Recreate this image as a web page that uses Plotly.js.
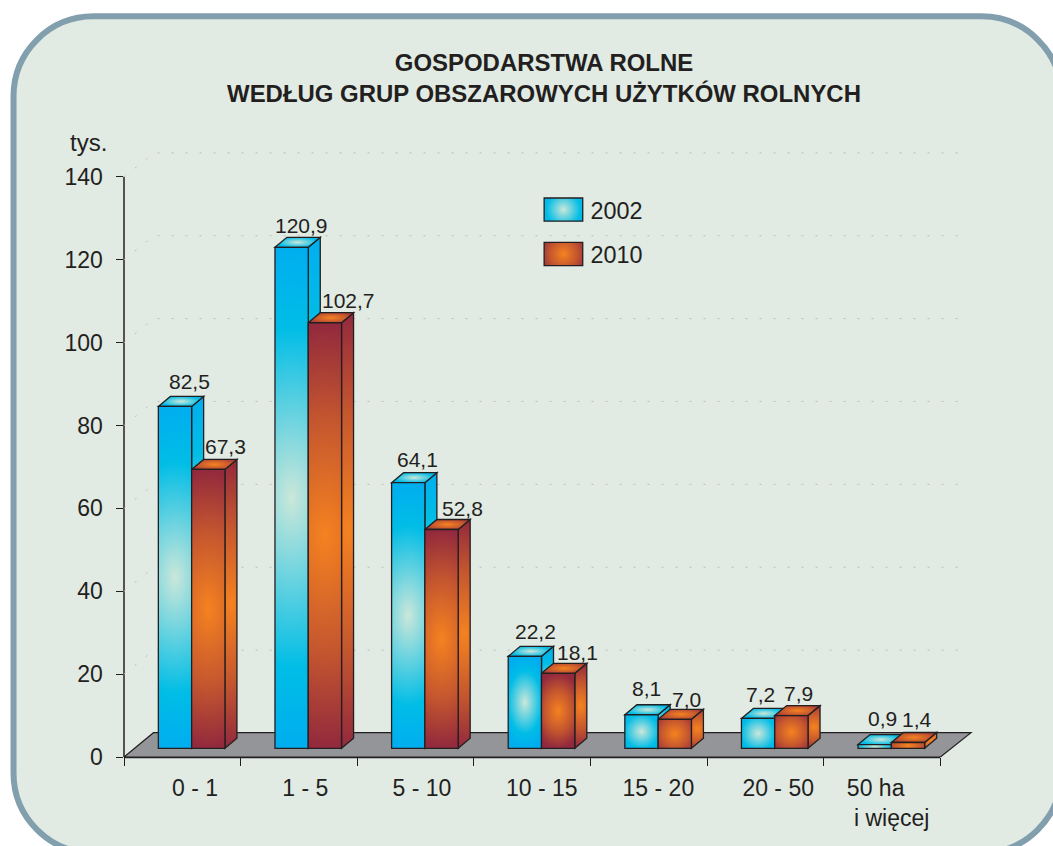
<!DOCTYPE html>
<html>
<head>
<meta charset="utf-8">
<script src="https://cdn.plot.ly/plotly-3.0.1.min.js"></script>
<style>html,body{margin:0;padding:0;background:#fff;overflow:hidden}</style>
</head>
<body>
<div id="chart" style="width:1053px;height:846px"></div>
<script>
// ---- data
const categories = ['0 - 1', '1 - 5', '5 - 10', '10 - 15', '15 - 20', '20 - 50', '50 ha i więcej'];
const values2002 = [82.5, 120.9, 64.1, 22.2, 8.1, 7.2, 0.9];
const values2010 = [67.3, 102.7, 52.8, 18.1, 7.0, 7.9, 1.4];
const yTicks = [0, 20, 40, 60, 80, 100, 120, 140];
const chartTitle = 'GOSPODARSTWA ROLNE<br>WEDŁUG GRUP OBSZAROWYCH UŻYTKÓW ROLNYCH';
const unitLabel = 'tys.';
// tick labels sit a little right of the category centres in the reference
const NB = n => '\u00a0'.repeat(n);
const tickLabels = [NB(4) + '0 - 1', NB(2) + '1 - 5', NB(2) + '5 - 10', NB(3) + '10 - 15', NB(3) + '15 - 20', NB(4) + '20 - 50',
  '50 ha' + NB(2) + '<br>' + NB(3) + 'i więcej'];

// ---- layout constants (pixels of the 1053x846 page)
const L = 123.5, BOTTOM = 757, PX_X = 116.64, PX_Y = 580 / 140;
const X_MAX = 6.78, Y_MAX = 146;
const R = L + (X_MAX + 0.5) * PX_X, T = BOTTOM - Y_MAX * PX_Y;
const xd = px => (px - L) / PX_X - 0.5;
const yd = py => (BOTTOM - py) / PX_Y;
const xp = px => (px - L) / (R - L);
const yp = py => (BOTTOM - py) / (BOTTOM - T);

const INK = '#231f20', FONT = '"Liberation Sans", Arial, sans-serif';
const BASE = 8.7 / PX_Y;              // bars stand on the floor, behind the axis line
const BAR_W = 33.3 / PX_X;
const OFF_A = -BAR_W + 0.08, OFF_B = 0.08;
const DX = 12 / PX_X, DY = 10 / PX_Y; // depth of the boxes
const GRID_LIFT = 24 / PX_Y, GRID_RUN = 30 / PX_X;

const BLUE = [[0, '#cbe7da'], [0.68, '#00bde6'], [1, '#00aeef']];
const RED = [[0, '#f58220'], [0.55, '#c4562f'], [1, '#92293d']];

const labelShift2002 = [[14.5, 25], [10, 22], [9, 23.6], [10.6, 24.6], [5, 26], [2.3, 23.6], [7.7, 25.6]];
const labelShift2010 = [[17, 23], [23.6, 22], [21, 21], [19.3, 20.5], [11.6, 20], [7, 21.7], [9.4, 23.5]];

// ---- background frame, grid, floor, axis lines
const shapes = [];
const faceKinds = {};
const fx = [13, 1061], fy = [16.5, 853], fr = 80, k = fr * 0.4477;
const framePath = [
  `M${xp(fx[0] + fr)},${yp(fy[0])}`,
  `L${xp(fx[1] - fr)},${yp(fy[0])}`,
  `C${xp(fx[1] - k)},${yp(fy[0])} ${xp(fx[1])},${yp(fy[0] + k)} ${xp(fx[1])},${yp(fy[0] + fr)}`,
  `L${xp(fx[1])},${yp(fy[1] - fr)}`,
  `C${xp(fx[1])},${yp(fy[1] - k)} ${xp(fx[1] - k)},${yp(fy[1])} ${xp(fx[1] - fr)},${yp(fy[1])}`,
  `L${xp(fx[0] + fr)},${yp(fy[1])}`,
  `C${xp(fx[0] + k)},${yp(fy[1])} ${xp(fx[0])},${yp(fy[1] - k)} ${xp(fx[0])},${yp(fy[1] - fr)}`,
  `L${xp(fx[0])},${yp(fy[0] + fr)}`,
  `C${xp(fx[0])},${yp(fy[0] + k)} ${xp(fx[0] + k)},${yp(fy[0])} ${xp(fx[0] + fr)},${yp(fy[0])}Z`
].join(' ');
shapes.push({type: 'path', xref: 'paper', yref: 'paper', layer: 'below', path: framePath,
  fillcolor: '#e1eae3', line: {color: '#829fae', width: 6}});

yTicks.filter(t => t > 0).forEach(t => {
  shapes.push({type: 'path', xref: 'x', yref: 'y', layer: 'below',
    path: `M${-0.5},${t} L${-0.5 + GRID_RUN},${t + GRID_LIFT} L${xd(964)},${t + GRID_LIFT}`,
    line: {color: '#bcbebf', width: 1, dash: '2px,12px'}});
});

shapes.push({type: 'path', xref: 'x', yref: 'y', layer: 'below',
  path: `M${xd(L)},0 L${xd(940)},0 L${xd(970.7)},${yd(732.7)} L${xd(153)},${yd(732.7)}Z`,
  fillcolor: '#939598', line: {color: INK, width: 1.2}});
shapes.push({type: 'line', xref: 'paper', yref: 'paper', layer: 'below',
  x0: 0, x1: xp(940), y0: 0, y1: 0, line: {color: INK, width: 2.4}});
shapes.push({type: 'line', xref: 'paper', yref: 'paper', layer: 'below',
  x0: 0, x1: 0, y0: 0, y1: yp(177), line: {color: INK, width: 1.5}});

// ---- side and top faces of the boxes, worked out from the values
function addFaces(vals, off, stops) {
  vals.forEach((v, i) => {
    const xl = i + off, xr = xl + BAR_W, top = BASE + v;
    const side = `M${xr},${BASE} L${xr + DX},${BASE + DY} L${xr + DX},${top + DY} L${xr},${top}Z`;
    const lid = `M${xl},${top} L${xl + DX},${top + DY} L${xr + DX},${top + DY} L${xr},${top}Z`;
    [[side, 'side'], [lid, 'lid']].forEach(([p, kind]) => {
      faceKinds[shapes.length] = {stops, kind};
      shapes.push({type: 'path', xref: 'x', yref: 'y', layer: 'below', path: p,
        fillcolor: stops[1][1], line: {color: INK, width: 1.3}});
    });
  });
}
addFaces(values2002, OFF_A, BLUE);
addFaces(values2010, OFF_B, RED);

// ---- value labels
const fmt = v => v.toFixed(1).replace('.', ',');
function labels(vals, off, shifts) {
  return vals.map((v, i) => ({
    xref: 'x', yref: 'y', x: i + off + BAR_W / 2, y: BASE + v, text: fmt(v),
    xshift: shifts[i][0], yshift: shifts[i][1], showarrow: false,
    xanchor: 'center', yanchor: 'middle', font: {family: FONT, size: 21, color: INK}
  }));
}
const annotations = labels(values2002, OFF_A, labelShift2002)
  .concat(labels(values2010, OFF_B, labelShift2010));
annotations.push({xref: 'paper', yref: 'paper', x: xp(88), y: yp(143), text: unitLabel, showarrow: false,
  xanchor: 'center', yanchor: 'middle', font: {family: FONT, size: 24, color: INK}});

// ---- traces: front faces
function barTrace(name, vals, off, stops) {
  return {type: 'bar', name, x: categories, y: vals, base: BASE, offset: off, width: BAR_W,
    legendgroup: name, marker: {color: stops[1][1], line: {color: INK, width: 1.3}},
    hovertemplate: '%{x}: %{y}<extra>' + name + '</extra>'};
}
const traces = [barTrace('2002', values2002, OFF_A, BLUE), barTrace('2010', values2010, OFF_B, RED)];

const layout = {
  width: 1053, height: 846,
  margin: {l: L, r: 1053 - R, t: T, b: 846 - BOTTOM, pad: 0},
  paper_bgcolor: '#ffffff', plot_bgcolor: 'rgba(0,0,0,0)',
  font: {family: FONT, size: 23, color: INK},
  title: {text: chartTitle, font: {family: FONT, size: 23.95, weight: 700, color: INK},
    x: 544 / 1053, xanchor: 'center', y: 1 - 71 / 846, yanchor: 'top'},
  barmode: 'overlay',
  xaxis: {type: 'category', categoryorder: 'array', categoryarray: categories,
    range: [-0.5, X_MAX], tickmode: 'array', tickvals: categories, ticktext: tickLabels,
    tickson: 'boundaries', ticks: 'outside', ticklen: 8, tickwidth: 1.3, tickcolor: INK,
    showline: false, showgrid: false, zeroline: false, tickangle: 0,
    ticklabelstandoff: 15, tickfont: {family: FONT, size: 23, color: INK}, automargin: false},
  yaxis: {range: [0, Y_MAX], tickmode: 'array', tickvals: yTicks,
    ticks: 'outside', ticklen: 7.5, tickwidth: 1.3, tickcolor: INK,
    showline: false, showgrid: false, zeroline: false,
    ticklabelstandoff: 8, tickfont: {family: FONT, size: 23, color: INK}, automargin: false},
  showlegend: true,
  legend: {x: xp(536), xanchor: 'left', y: yp(188), yanchor: 'top', orientation: 'v',
    bgcolor: 'rgba(0,0,0,0)', borderwidth: 0, traceorder: 'grouped', tracegroupgap: 11,
    itemwidth: 44, itemclick: false, itemdoubleclick: false,
    font: {family: FONT, size: 23.4, color: INK}},
  shapes, annotations,
  hovermode: 'closest'
};

// ---- gradients (Plotly has no gradient fill for bars or shapes)
let gradId = 0;
function paint(el, stops, kind) {
  const svg = el.ownerSVGElement, NS = 'http://www.w3.org/2000/svg';
  let defs = svg.querySelector('defs.faces');
  if (!defs) { defs = document.createElementNS(NS, 'defs'); defs.setAttribute('class', 'faces'); svg.insertBefore(defs, svg.firstChild); }
  const b = el.getBBox();
  if (!b.width || !b.height) return;
  const rx = kind === 'lid' ? 30 : Math.max(25, 0.25 * b.height);
  const ry = kind === 'lid' ? b.height * 0.75 : Math.max(25, b.height / 2);
  const g = document.createElementNS(NS, 'radialGradient');
  const id = 'face' + (gradId++);
  g.setAttribute('id', id);
  g.setAttribute('gradientUnits', 'objectBoundingBox');
  g.setAttribute('cx', 0); g.setAttribute('cy', 0); g.setAttribute('r', 1);
  g.setAttribute('gradientTransform', `translate(0.5 0.5) scale(${rx / b.width} ${ry / b.height})`);
  stops.forEach(s => {
    const st = document.createElementNS(NS, 'stop');
    st.setAttribute('offset', s[0]); st.setAttribute('stop-color', s[1]);
    g.appendChild(st);
  });
  defs.appendChild(g);
  el.style.fill = `url(#${id})`;
}
function decorate(gd) {
  gd.querySelectorAll('defs.faces').forEach(d => d.remove());
  const series = [BLUE, RED];
  gd.querySelectorAll('.barlayer .trace.bars').forEach((tr, i) => {
    tr.querySelectorAll('.point path').forEach(p => paint(p, series[i], 'front'));
  });
  Object.keys(faceKinds).forEach(idx => {
    const p = gd.querySelector(`.shapelayer path[data-index="${idx}"]`);
    if (p) paint(p, faceKinds[idx].stops, faceKinds[idx].kind);
  });
  gd.querySelectorAll('.legend .traces').forEach((tr, i) => {
    const p = tr.querySelector('.legendpoints path');
    if (p) { p.setAttribute('d', 'M19.3,11.6H-19.3V-11.6H19.3Z'); paint(p, series[i], 'front'); }
  });
}

Plotly.newPlot('chart', traces, layout, {displayModeBar: false, responsive: false}).then(gd => {
  decorate(gd);
  gd.on('plotly_afterplot', () => decorate(gd));
});
</script>
</body>
</html>
